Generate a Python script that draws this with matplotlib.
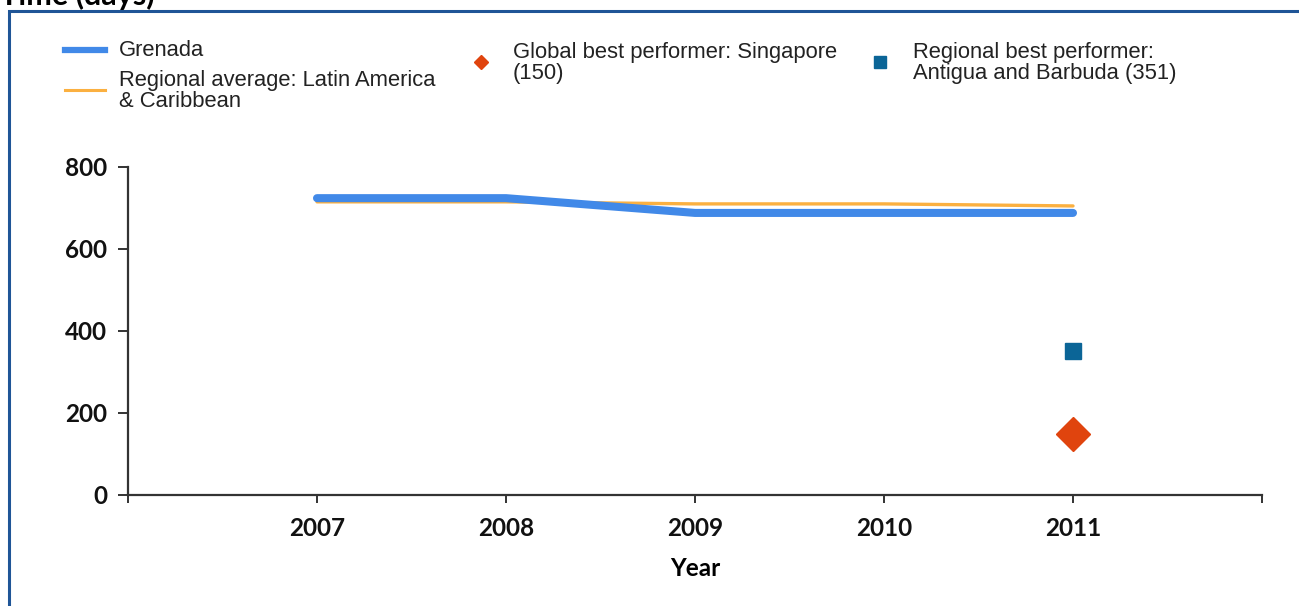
import matplotlib.pyplot as plt
from matplotlib.lines import Line2D
from matplotlib.patches import Rectangle

# ------------------------------------------------------------
# data
# ------------------------------------------------------------
years = [2007, 2008, 2009, 2010, 2011]
grenada = [724, 724, 688, 688, 688]
regional_avg = [715, 715, 710, 710, 705]

best_year = 2011
global_best = 150      # Singapore
regional_best = 351    # Antigua and Barbuda

BLUE = "#4189e8"
ORANGE = "#fbb040"
RED = "#e0440e"
TEAL = "#0b6597"
FRAME = "#1f5597"
AXIS = "#333333"

W, H = 1299, 606
fig = plt.figure(figsize=(W / 100, H / 100), dpi=100)


def fx(x):
    return x / W


def fy(y):
    return 1 - y / H


# outer frame, only the top and left edges fall inside the canvas
fig.add_artist(Rectangle((fx(9), fy(700)), 1.2, fy(11) - fy(700),
                         transform=fig.transFigure, fill=False,
                         edgecolor=FRAME, linewidth=2.2))
fig.text(fx(0), fy(5), "Time (days)", fontsize=22, fontweight="bold",
         family="Lato", va="baseline", ha="left")

ax = fig.add_axes([fx(128), fy(495), fx(1262) - fx(128), fy(167) - fy(495)])

ax.plot(years, regional_avg, color=ORANGE, lw=2.4, solid_capstyle="round", zorder=2)
ax.plot(years, grenada, color=BLUE, lw=5.8, solid_capstyle="round",
        solid_joinstyle="round", zorder=3)
ax.plot([best_year], [regional_best], marker="s", ms=12, color=TEAL, ls="none", zorder=4)
ax.plot([best_year], [global_best], marker="D", ms=17, color=RED, ls="none", zorder=4)

ax.set_xlim(2006, 2012)
ax.set_ylim(0, 800)
ax.set_xticks([2006] + years + [2012])
ax.set_xticklabels([""] + [str(y) for y in years] + [""])
ax.set_yticks([0, 200, 400, 600, 800])

for side in ["top", "right"]:
    ax.spines[side].set_visible(False)
for side in ["left", "bottom"]:
    ax.spines[side].set_color(AXIS)
    ax.spines[side].set_linewidth(1.6)

ax.tick_params(axis="y", length=7, width=1.4, color=AXIS, pad=8)
ax.tick_params(axis="x", length=6, width=1.4, color=AXIS, pad=10)
for lab in ax.get_xticklabels() + ax.get_yticklabels():
    lab.set_family("Lato")
    lab.set_fontweight("bold")
    lab.set_fontsize(17.5)
    lab.set_color("#111111")

ax.set_xlabel("Year", fontsize=17.5, fontweight="bold", family="Lato", labelpad=12)

# ------------------------------------------------------------
# legend, drawn by hand in figure space
# ------------------------------------------------------------
LEG_FONT = dict(fontsize=15.8, family="Liberation Sans", color="#222222",
                va="center", ha="left", linespacing=0.98)

fig.add_artist(Line2D([fx(65), fx(105)], [fy(50), fy(50)], color=BLUE, lw=4.5,
                      transform=fig.transFigure))
fig.text(fx(119), fy(51), "Grenada", **LEG_FONT)

fig.add_artist(Line2D([fx(65), fx(105)], [fy(90), fy(90)], color=ORANGE, lw=2.2,
                      transform=fig.transFigure))
fig.text(fx(119), fy(91), "Regional average: Latin America\n& Caribbean", **LEG_FONT)

fig.add_artist(Line2D([fx(481)], [fy(62)], marker="D", ms=7.5, color=RED, ls="none",
                      transform=fig.transFigure))
fig.text(fx(513), fy(63), "Global best performer: Singapore\n(150)", **LEG_FONT)

fig.add_artist(Line2D([fx(880)], [fy(62)], marker="s", ms=9, color=TEAL, ls="none",
                      transform=fig.transFigure))
fig.text(fx(913), fy(63), "Regional best performer:\nAntigua and Barbuda (351)", **LEG_FONT)

fig.savefig("out.png", dpi=100, facecolor="white")
